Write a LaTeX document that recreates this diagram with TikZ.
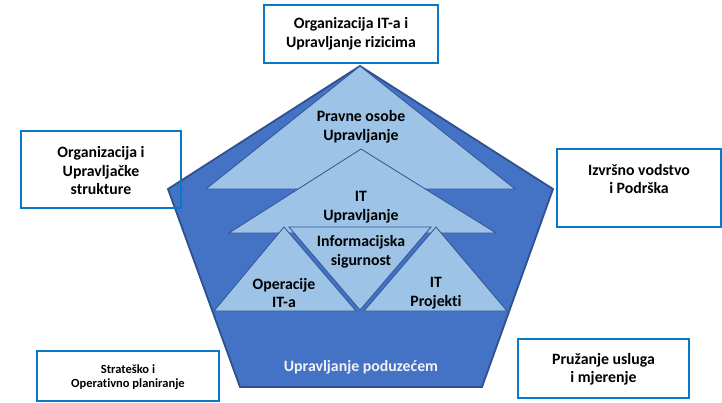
\documentclass[tikz,border=0pt]{standalone}
\usepackage{fontspec}
\setmainfont{Carlito}[Ligatures=NoCommon]
\definecolor{pentfill}{HTML}{4472C4}
\definecolor{pentdraw}{HTML}{2F528F}
\definecolor{trifill}{HTML}{9DC3E6}
\definecolor{tridraw}{HTML}{2F5597}
\definecolor{boxdraw}{HTML}{0A78C8}
\tikzset{
  pent/.style={fill=pentfill, draw=pentdraw, line width=1.8pt, line join=miter},
  tri/.style={fill=trifill, draw=tridraw, line width=0.8pt, line join=miter},
  frame/.style={draw=boxdraw, line width=1.8pt, inner sep=0pt},
  lbl/.style={font=\bfseries\fontsize{15.8}{18.5}\selectfont, align=center, inner sep=0pt, text=black},
  small/.style={font=\bfseries\fontsize{12.5}{14.5}\selectfont, align=center, inner sep=0pt, text=black},
  wlbl/.style={font=\bfseries\fontsize{15.8}{18.5}\selectfont, align=center, inner sep=0pt, text=white!95!black}
}
\begin{document}
\begin{tikzpicture}[x=1pt,y=-1pt]
\useasboundingbox[fill=white] (0,0) rectangle (722,402);
% pentagon
\draw[pent] (360,66) -- (553,189) -- (482,387) -- (240,387) -- (168,189) -- cycle;
% triangles
\draw[tri] (360,66) -- (515,189) -- (206,189) -- cycle;
\draw[tri] (361,149) -- (496,233) -- (229,233) -- cycle;
\draw[tri] (289,227) -- (431,227) -- (360,310) -- cycle;
\draw[tri] (284,227) -- (356,311) -- (214,311) -- cycle;
\draw[tri] (436,227) -- (507,311) -- (364,311) -- cycle;
% labels inside
\node[lbl] (pravne) at (361,127) {Pravne osobe\\Upravljanje};
\node[lbl] (itupr) at (361,207) {IT\\Upravljanje};
\node[lbl] (infsig) at (361,252) {Informacijska\\sigurnost};
\node[lbl] (oper) at (284,293) {Operacije\\IT-a};
\node[lbl] (itproj) at (436,293) {IT\\Projekti};
\node[wlbl] (poduz) at (361,367) {Upravljanje poduze\'cem};
% outer boxes
\node[frame, minimum width=174pt, minimum height=58pt] (top) at (351,34) {};
\node[lbl] (toptxt) at (351,34) {Organizacija IT-a i\\Upravljanje rizicima};
\node[frame, minimum width=160pt, minimum height=77pt] (left) at (101,169.5) {};
\node[lbl] (lefttxt) at (101,171) {Organizacija i\\Upravlja\v{c}ke\\strukture};
\node[frame, minimum width=164pt, minimum height=78pt] (right) at (639,188) {};
\node[lbl] (righttxt) at (639,179) {Izvr\v{s}no vodstvo\\i Podr\v{s}ka};
\node[frame, minimum width=182pt, minimum height=50pt] (bl) at (128,376) {};
\node[small] (bltxt) at (128,377) {Strate\v{s}ko i\\Operativno planiranje};
\node[frame, minimum width=171pt, minimum height=59pt] (br) at (603.5,368.5) {};
\node[lbl] (brtxt) at (603.5,369.5) {Pru\v{z}anje usluga\\i mjerenje};
\end{tikzpicture}
\end{document}
